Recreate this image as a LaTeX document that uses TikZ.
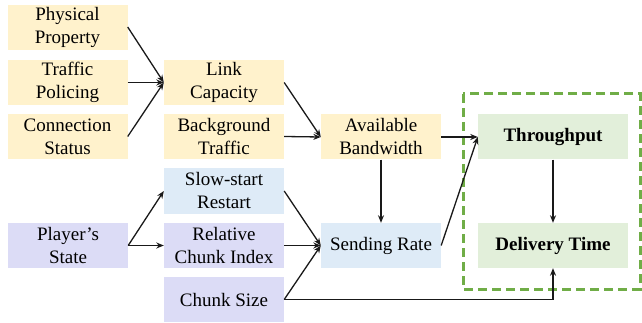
\documentclass[tikz,border=0pt]{standalone}
\usepackage{fontspec}
\setmainfont{Liberation Serif}
\usetikzlibrary{arrows.meta}
\definecolor{cyel}{HTML}{FFF2CC}
\definecolor{cblu}{HTML}{DEEBF7}
\definecolor{clav}{HTML}{DCDCF6}
\definecolor{cgrn}{HTML}{E2EFDA}
\definecolor{cdash}{HTML}{70AD47}
\tikzset{
  box/.style={minimum width=120pt, minimum height=45pt, inner sep=0pt, align=center,
    font=\fontsize{19}{23}\selectfont},
  ybox/.style={box, fill=cyel},
  bbox/.style={box, fill=cblu},
  lbox/.style={box, fill=clav},
  gbox/.style={box, fill=cgrn, minimum width=150pt, font=\fontsize{19}{23}\selectfont\bfseries},
  arr/.style={draw=black!90, line width=1.3pt, -{Stealth[length=7.5pt,width=6pt]}},
}
\begin{document}
\begin{tikzpicture}[x=1pt,y=-1pt]
\useasboundingbox (0,0) rectangle (642,323);
\node[ybox] (pp) at (67.5,27.5) {Physical\\Property};
\node[ybox] (tp) at (67.5,82.5) {Traffic\\Policing};
\node[ybox] (cs) at (67.5,136.5) {Connection\\Status};
\node[ybox] (lc) at (224,82.5) {Link\\Capacity};
\node[ybox] (bt) at (224,136.5) {Background\\Traffic};
\node[ybox] (ab) at (381,137) {Available\\Bandwidth};
\node[bbox] (ss) at (224,191) {Slow-start\\Restart};
\node[lbox] (ps) at (68,245.5) {Player’s\\State};
\node[lbox] (rci) at (224,245.5) {Relative\\Chunk Index};
\node[lbox] (chs) at (224,299.5) {Chunk Size};
\node[bbox] (sr) at (381,245.5) {Sending Rate};
\node[gbox] (th) at (553,137) {Throughput};
\node[gbox] (dt) at (553,245.5) {Delivery Time};
\draw[cdash, line width=3pt, dash pattern=on 9pt off 5pt] (463,94) rectangle (640,289);
\draw[arr] ([yshift=0.5pt]pp.east) -- (lc.west);
\draw[arr] (tp.east) -- (lc.west);
\draw[arr] (cs.east) -- (lc.west);
\draw[arr] (lc.east) -- (ab.west);
\draw[arr] (bt.east) -- (ab.west);
\draw[arr] (ab.east) -- (th.west);
\draw[arr] (ab.south) -- (sr.north);
\draw[arr] (ps.east) -- (ss.west);
\draw[arr] (ps.east) -- (rci.west);
\draw[arr] (ss.east) -- (sr.west);
\draw[arr] (rci.east) -- (sr.west);
\draw[arr] (chs.east) -- (sr.west);
\draw[arr] (sr.east) -- (th.west);
\draw[arr] (th.south) -- (dt.north);
\draw[arr] (chs.east) -| (dt.south);
\end{tikzpicture}
\end{document}
